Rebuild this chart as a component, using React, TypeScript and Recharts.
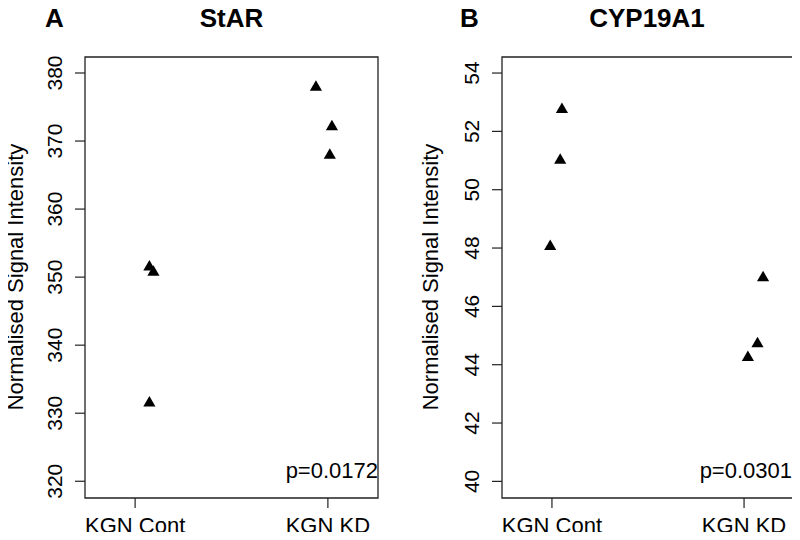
import { ReferenceArea, Scatter, ScatterChart, XAxis, YAxis, ZAxis } from "recharts";

const GROUPS = ["KGN Cont", "KGN KD"];
const X_DOMAIN: [number, number] = [0.74, 2.26];

// StAR
const starContX = [1.074, 1.095, 1.074];
const starContY = [351.5, 350.7, 331.5];
const starKdX = [1.938, 2.021, 2.01];
const starKdY = [377.9, 372.1, 367.9];
const starTicks = [320, 330, 340, 350, 360, 370, 380];
const starDomain: [number, number] = [317.54, 382.35];

// CYP19A1
const cypContX = [1.052, 1.043, 0.991];
const cypContY = [52.75, 51.01, 48.05];
const cypKdX = [2.099, 2.07, 2.02];
const cypKdY = [46.98, 44.72, 44.25];
const cypTicks = [40, 42, 44, 46, 48, 50, 52, 54];
const cypDomain: [number, number] = [39.43, 54.55];

const FONT = "'Liberation Sans', Arial, Helvetica, sans-serif";

function toPoints(xs: number[], ys: number[]) {
  return xs.map((x, i) => ({ x, y: ys[i] }));
}

function YTick(props: any) {
  const { x, y, payload } = props;
  const bx = x - 13;
  return (
    <text
      x={bx}
      y={y}
      transform={`rotate(-90 ${bx} ${y})`}
      textAnchor="middle"
      fontSize={21}
      fontFamily={FONT}
      fill="#000"
    >
      {payload.value}
    </text>
  );
}

function XTick(props: any) {
  const { x, y, payload } = props;
  return (
    <text x={x} y={y + 25} textAnchor="middle" fontSize={22} fontFamily={FONT} fill="#000">
      {GROUPS[payload.value - 1]}
    </text>
  );
}

interface PanelProps {
  left: number;
  axisWidth: number;
  rightMargin: number;
  domain: [number, number];
  ticks: number[];
  cont: { x: number; y: number }[];
  kd: { x: number; y: number }[];
}

function Panel({ left, axisWidth, rightMargin, domain, ticks, cont, kd }: PanelProps) {
  return (
    <div style={{ position: "absolute", left, top: 0 }}>
      <ScatterChart
        width={400}
        height={540}
        margin={{ top: 57, right: rightMargin, bottom: 0, left: 0 }}
      >
        <XAxis
          type="number"
          dataKey="x"
          domain={X_DOMAIN}
          ticks={[1, 2]}
          allowDataOverflow
          height={42}
          axisLine={false}
          tickSize={10}
          tickMargin={0}
          tickLine={{ stroke: "#222", strokeWidth: 1.2 }}
          tick={<XTick />}
        />
        <YAxis
          type="number"
          dataKey="y"
          domain={domain}
          ticks={ticks}
          allowDataOverflow
          width={axisWidth}
          axisLine={false}
          tickSize={10}
          tickMargin={0}
          tickLine={{ stroke: "#222", strokeWidth: 1.2 }}
          tick={<YTick />}
        />
        <ZAxis range={[94, 94]} />
        <ReferenceArea
          x1={X_DOMAIN[0]}
          x2={X_DOMAIN[1]}
          y1={domain[0]}
          y2={domain[1]}
          fill="none"
          stroke="#222"
          strokeWidth={1.3}
          ifOverflow="visible"
        />
        <Scatter data={cont} shape="triangle" fill="#000" isAnimationActive={false} />
        <Scatter data={kd} shape="triangle" fill="#000" isAnimationActive={false} />
      </ScatterChart>
    </div>
  );
}

export default function App() {
  return (
    <div
      style={{
        position: "relative",
        width: 800,
        height: 540,
        margin: -8,
        background: "#fff",
        overflow: "hidden",
      }}
    >
      <Panel
        left={0}
        axisWidth={85}
        rightMargin={22}
        domain={starDomain}
        ticks={starTicks}
        cont={toPoints(starContX, starContY)}
        kd={toPoints(starKdX, starKdY)}
      />
      <Panel
        left={400}
        axisWidth={102}
        rightMargin={6}
        domain={cypDomain}
        ticks={cypTicks}
        cont={toPoints(cypContX, cypContY)}
        kd={toPoints(cypKdX, cypKdY)}
      />
      <svg
        width={800}
        height={540}
        style={{ position: "absolute", left: 0, top: 0, pointerEvents: "none" }}
        fontFamily={FONT}
      >
        <text x={45} y={27} fontSize={26} fontWeight="bold">A</text>
        <text x={231.5} y={27} fontSize={26} fontWeight="bold" textAnchor="middle">StAR</text>
        <text x={460} y={27} fontSize={26} fontWeight="bold">B</text>
        <text x={647} y={27} fontSize={26} fontWeight="bold" textAnchor="middle">CYP19A1</text>
        <text x={22.7} y={277} fontSize={22} textAnchor="middle" transform="rotate(-90 22.7 277)">
          Normalised Signal Intensity
        </text>
        <text x={438.3} y={277} fontSize={22} textAnchor="middle" transform="rotate(-90 438.3 277)">
          Normalised Signal Intensity
        </text>
        <text x={378} y={478} fontSize={22} textAnchor="end">p=0.0172</text>
        <text x={792} y={478} fontSize={22} textAnchor="end">p=0.0301</text>
      </svg>
    </div>
  );
}
